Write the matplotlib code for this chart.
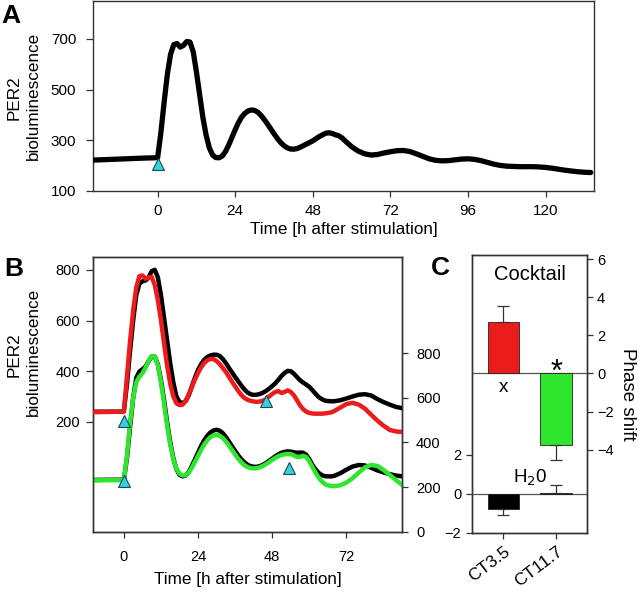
import matplotlib
matplotlib.use("Agg")
import matplotlib.pyplot as plt

plt.rcParams['font.family'] = ['Liberation Sans', 'DejaVu Sans']

# ---------------- Panel A data ----------------
a_time = [-20, -16, -12, -8, -4, -1, 0, 1, 2, 3, 4, 5, 6, 7, 8, 9, 10, 11, 12, 13, 14,
          15, 16, 17, 18, 19, 20, 21, 22, 23, 24, 25, 26, 27, 28, 29, 30, 31, 32, 33,
          34, 35, 36, 37, 38, 39, 40, 41, 42, 43, 44, 46, 48, 50, 52, 53, 54, 55, 56,
          57, 58, 60, 62, 64, 66, 68, 70, 72, 74, 76, 78, 80, 82, 84, 86, 88, 90, 92,
          94, 96, 98, 100, 102, 104, 106, 108, 110, 112, 114, 116, 118, 120, 122, 124,
          126, 128, 130, 132, 134]
a_per2 = [222, 224, 226, 228, 230, 231, 232, 330, 450, 560, 640, 678, 682, 668, 675,
          690, 688, 650, 570, 480, 390, 320, 270, 242, 232, 231, 238, 256, 282, 312,
          342, 370, 392, 407, 416, 420, 418, 411, 398, 382, 364, 345, 326, 308, 292,
          280, 271, 266, 265, 267, 272, 285, 298, 315, 328, 330, 327, 322, 318, 310,
          298, 275, 258, 247, 242, 244, 250, 255, 259, 260, 256, 247, 237, 227, 221,
          219, 220, 223, 226, 227, 225, 220, 213, 206, 201, 198, 197, 196, 196, 196,
          195, 193, 190, 186, 182, 179, 176, 174, 173]
a_stim_time = [0]
a_stim_y = [205]
a_xticks = [0, 24, 48, 72, 96, 120]
a_yticks = [100, 300, 500, 700]

# ---------------- Panel B data ----------------
b_time = [-10, -5, -1, 0, 1, 2, 3, 4, 5, 6, 7, 8, 9, 10, 11, 12, 13, 14, 15, 16, 17,
          18, 19, 20, 21, 22, 23, 24, 25, 26, 27, 28, 29, 30, 31, 32, 33, 34, 35, 36,
          37, 38, 39, 40, 41, 42, 43, 44, 45, 46, 47, 48, 49, 50, 51, 52, 53, 54, 55,
          56, 57, 58, 59, 60, 61, 62, 63, 64, 65, 66, 67, 68, 70, 72, 74, 76, 78, 80,
          82, 84, 86, 88, 90]
# upper pair (left axis)
b_ctrl_top = [240, 240, 240, 242, 350, 480, 600, 700, 745, 755, 758, 770, 795, 800,
              770, 700, 610, 520, 430, 355, 300, 278, 274, 282, 305, 340, 375, 405,
              428, 445, 456, 462, 465, 465, 460, 448, 432, 413, 395, 377, 360, 343,
              328, 316, 309, 306, 307, 310, 315, 322, 331, 341, 352, 366, 381, 393,
              401, 400, 390, 377, 364, 355, 347, 338, 325, 311, 298, 290, 284, 282,
              281, 281, 285, 292, 300, 307, 309, 304, 290, 278, 268, 259, 254]
b_cocktail_ct35 = [238, 239, 240, 240, 380, 520, 640, 730, 775, 778, 765, 770, 772,
                   740, 680, 600, 510, 420, 350, 300, 273, 266, 268, 283, 308, 338,
                   367, 393, 415, 432, 443, 448, 448, 440, 428, 413, 397, 378, 358,
                   340, 322, 306, 294, 287, 283, 280, 279, 280, 283, 290, 300, 310,
                   318, 321, 314, 318, 324, 318, 305, 285, 265, 250, 240, 235, 233,
                   232, 232, 232, 233, 235, 237, 242, 256, 270, 275, 268, 252, 228,
                   205, 185, 168, 162, 160]
# lower pair (right axis)
b_ctrl_bottom = [232, 233, 233, 234, 330, 470, 600, 690, 718, 728, 740, 765, 785, 785,
                 750, 680, 590, 490, 400, 330, 280, 255, 248, 252, 268, 295, 325, 355,
                 385, 410, 430, 445, 454, 457, 453, 442, 425, 404, 383, 362, 342, 325,
                 311, 300, 294, 291, 291, 294, 300, 308, 318, 328, 338, 347, 354, 358,
                 360, 359, 356, 354, 355, 354, 345, 325, 300, 280, 264, 254, 249, 248,
                 248, 250, 262, 278, 292, 299, 297, 287, 275, 266, 258, 252, 248]
b_cocktail_ct117 = [230, 231, 231, 232, 340, 490, 600, 670, 695, 710, 735, 765, 788,
                    785, 745, 670, 575, 475, 390, 325, 282, 260, 252, 253, 265, 287,
                    313, 340, 367, 391, 410, 424, 432, 434, 430, 420, 405, 386, 366,
                    346, 327, 311, 298, 290, 285, 284, 285, 289, 295, 303, 312, 322,
                    331, 339, 344, 347, 348, 348, 342, 335, 335, 340, 335, 315, 290,
                    265, 243, 226, 214, 208, 205, 204, 208, 220, 240, 265, 288, 299,
                    295, 277, 255, 232, 210]
b_stim_top_time = [0, 46]
b_stim_top_y = [205, 283]
b_stim_bottom_time = [0, 53.5]
b_stim_bottom_y = [228, 287]
b_xticks = [0, 24, 48, 72]
b_left_ticks = [200, 400, 600, 800]
b_right_ticks = [0, 200, 400, 600, 800]

# ---------------- Panel C data ----------------
c_categories = ['CT3.5', 'CT11.7']
c_cocktail = [2.69, -3.74]
c_cocktail_err_low = [0.0, 0.78]
c_cocktail_err_high = [0.84, 0.0]
c_water = [-0.79, 0.03]
c_water_err_low = [0.29, 0.0]
c_water_err_high = [0.0, 0.43]
c_left_ticks = [-2, 0, 2]
c_right_ticks = [-4, -2, 0, 2, 4, 6]

# ---------------- styling ----------------
W, H = 640, 592
fig = plt.figure(figsize=(W / 100, H / 100), dpi=100)

def rect(x0, y0, x1, y1):
    return [x0 / W, 1 - y1 / H, (x1 - x0) / W, (y1 - y0) / H]

RED = '#ec1c1c'
GREEN = '#2ee62e'
CYAN = '#35d0e0'
SPINE = '#333333'

def style_axes(ax):
    for s in ax.spines.values():
        s.set_color(SPINE)
        s.set_linewidth(1.0)
    ax.tick_params(direction='out', length=4, width=0.9, color=SPINE)

# ---------------- Panel A ----------------
axA = fig.add_axes(rect(93, 1, 594, 191))
style_axes(axA)
axA.plot(a_time, a_per2, color='black', lw=3.8, solid_capstyle='round', zorder=3)
axA.plot(a_stim_time, a_stim_y, marker='^', ls='none', ms=9, mfc=CYAN,
         mec='#1a4a55', mew=0.8, zorder=4)
axA.set_xlim(-20, 135)
axA.set_ylim(100, 850)
axA.set_xticks(a_xticks)
axA.set_yticks(a_yticks)
axA.tick_params(axis='x', labelsize=11, length=4, pad=5.5)
axA.tick_params(axis='y', labelsize=11, length=5, pad=7)
axA.set_xlabel('Time [h after stimulation]', fontsize=12.3, labelpad=3)
fig.text(14 / W, 1 - 98 / H, 'PER2', rotation=90, fontsize=12.3, ha='center', va='center')
fig.text(33 / W, 1 - 96 / H, 'bioluminescence', rotation=90, fontsize=12.3,
         ha='center', va='center')
fig.text(1 / W, 1 - 16 / H, 'A', fontsize=19, fontweight='bold', va='center', ha='left')

# ---------------- Panel B ----------------
axB = fig.add_axes(rect(93, 256.7, 402, 531.7))
style_axes(axB)
axB.set_xlim(-10, 90)
axB.set_ylim(-234, 852)
axB2 = axB.twinx()
style_axes(axB2)
axB2.set_ylim(0, 1233)
axB2.plot(b_time, b_ctrl_bottom, color='black', lw=3.2, zorder=2)
axB2.plot(b_time, b_cocktail_ct117, color=GREEN, lw=3.2, zorder=3)
axB2.plot(b_stim_bottom_time, b_stim_bottom_y, marker='^', ls='none', ms=9,
          mfc=CYAN, mec='#1a4a55', mew=0.8, zorder=5)
axB2.set_yticks(b_right_ticks)
axB2.tick_params(axis='y', labelsize=10.5, length=4, pad=6)
axB.plot(b_time, b_ctrl_top, color='black', lw=3.2, zorder=2)
axB.plot(b_time, b_cocktail_ct35, color=RED, lw=3.2, zorder=3)
axB.plot(b_stim_top_time, b_stim_top_y, marker='^', ls='none', ms=9,
         mfc=CYAN, mec='#1a4a55', mew=0.8, zorder=5)
axB.set_zorder(axB2.get_zorder() + 1)
axB.patch.set_visible(False)
axB.set_xticks(b_xticks)
axB.set_yticks(b_left_ticks)
axB.tick_params(axis='x', labelsize=10.5, length=4, pad=9)
axB.tick_params(axis='y', labelsize=10.5, length=5, pad=4.5)
axB.set_xlabel('Time [h after stimulation]', fontsize=12.3, labelpad=6)
fig.text(14 / W, 1 - 355 / H, 'PER2', rotation=90, fontsize=12.3, ha='center', va='center')
fig.text(33 / W, 1 - 352 / H, 'bioluminescence', rotation=90, fontsize=12.3,
         ha='center', va='center')
fig.text(4 / W, 1 - 269 / H, 'B', fontsize=19, fontweight='bold', va='center', ha='left')

# ---------------- Panel C ----------------
axC = fig.add_axes(rect(471.7, 255, 586.7, 532.7))
style_axes(axC)
axC2 = axC.twinx()
style_axes(axC2)
xpos = [1, 2]
axC.set_xlim(0.4, 2.58)
axC.set_ylim(-2, 12.29)
axC2.set_ylim(-8.36, 6.22)
axC.axhline(0, color='#555555', lw=0.9, zorder=1)
axC2.axhline(0, color='#555555', lw=0.9, zorder=1)
axC2.bar(xpos, c_cocktail, width=0.6, color=[RED, GREEN], edgecolor='#222222',
         lw=0.6, zorder=2)
axC2.errorbar(xpos, c_cocktail, yerr=[c_cocktail_err_low, c_cocktail_err_high],
              fmt='none', ecolor='#333333', elinewidth=0.9, capsize=4, capthick=0.9)
axC.bar(xpos, c_water, width=0.6, color='black', edgecolor='#222222', lw=0.6, zorder=2)
axC.errorbar(xpos, c_water, yerr=[c_water_err_low, c_water_err_high],
             fmt='none', ecolor='#333333', elinewidth=0.9, capsize=4, capthick=0.9)
axC.set_xticks(xpos)
axC.set_xticklabels(c_categories, rotation=37, ha='right', rotation_mode='anchor',
                    fontsize=12.5)
axC.tick_params(axis='x', length=4, pad=4)
axC.set_yticks(c_left_ticks)
axC.tick_params(axis='y', labelsize=10.5, length=4)
axC2.set_yticks(c_right_ticks)
axC2.tick_params(axis='y', labelsize=10.5, length=4)
axC2.set_ylabel('Phase shift', rotation=270, fontsize=13.5, labelpad=16)
axC2.text(1.5, 5.2, 'Cocktail', fontsize=14.5, ha='center', va='center')
axC2.text(1, -0.75, 'x', fontsize=13.5, ha='center', va='center')
axC2.text(2, 0.05, '*', fontsize=22, ha='center', va='center')
axC.text(1.5, 0.55, 'H$_2$0', fontsize=13.5, ha='center', va='baseline')
fig.text(431 / W, 1 - 268 / H, 'C', fontsize=19, fontweight='bold', va='center', ha='left')

fig.savefig('out.png', dpi=100)
